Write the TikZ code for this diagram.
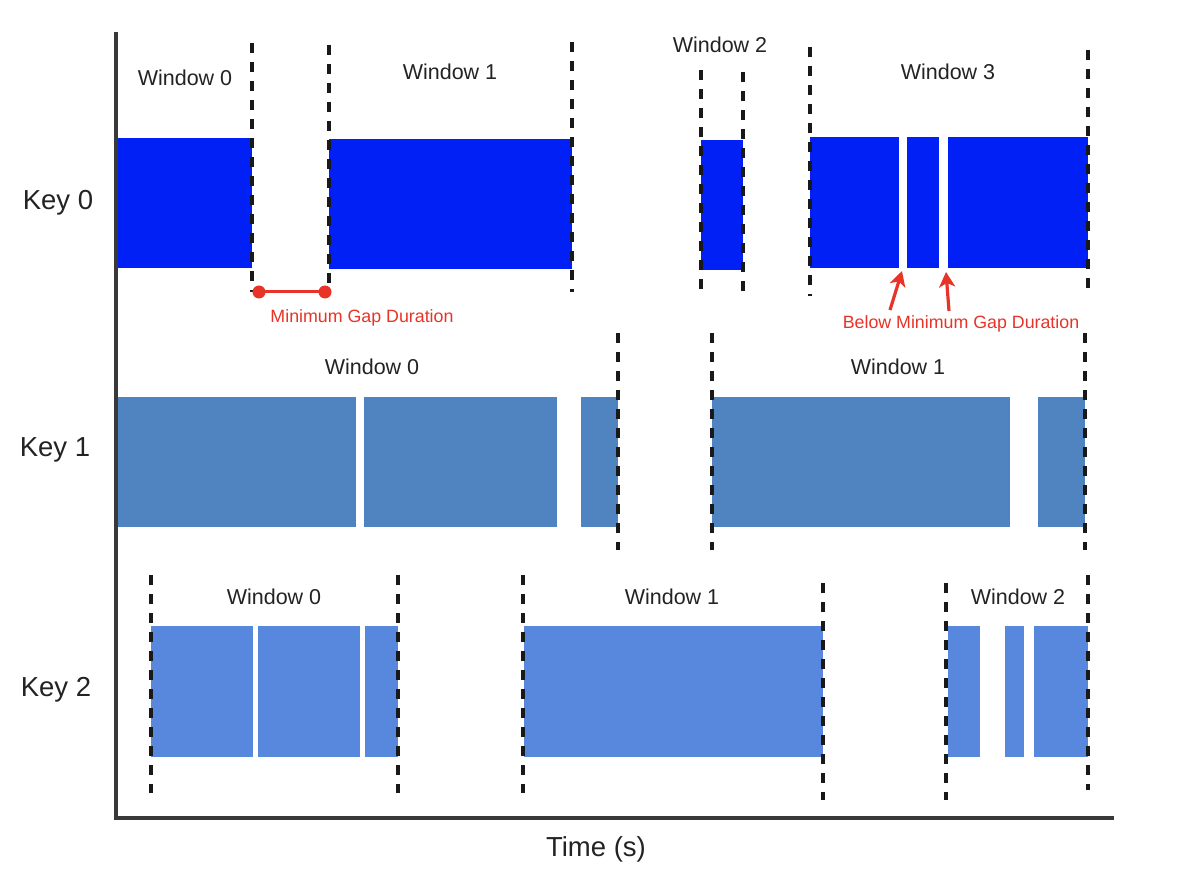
\documentclass[tikz,border=0pt]{standalone}
\usepackage{fontspec}
\setmainfont{Liberation Sans}
\usetikzlibrary{arrows.meta}
\definecolor{kzero}{RGB}{0,32,245}
\definecolor{kone}{RGB}{79,132,192}
\definecolor{ktwo}{RGB}{88,135,222}
\definecolor{gapred}{RGB}{232,52,40}
\definecolor{ink}{RGB}{35,35,35}
\tikzset{
  winline/.style={draw=black!90, line width=3.6pt, dash pattern=on 10pt off 9pt},
  axisline/.style={draw=ink!90, line width=3.4pt},
  wlabel/.style={text=ink, font=\fontsize{21.5}{24}\selectfont, inner sep=0pt},
  klabel/.style={text=ink, font=\fontsize{27.5}{30}\selectfont, inner sep=0pt},
  redlabel/.style={text=gapred, font=\fontsize{17.8}{20}\selectfont, inner sep=0pt},
  redarrow/.style={draw=gapred, line width=3.2pt, -{Stealth[length=15pt,width=16pt,inset=4pt]}},
}
\newcommand\winl[3]{\draw[winline] (#1,#2) -- (#1,#3);}
\begin{document}
\begin{tikzpicture}[x=1pt,y=-1pt]
\useasboundingbox (0,0) rectangle (1200,877);
\fill[white] (0,0) rectangle (1200,877);
% Key 0 bars
\fill[kzero] (116,138) rectangle (252,268);
\fill[kzero] (329,139) rectangle (572,269);
\fill[kzero] (701,140) rectangle (743,270);
\fill[kzero] (810,137) rectangle (899,268);
\fill[kzero] (907,137) rectangle (939,268);
\fill[kzero] (948,137) rectangle (1088,268);
% Key 1 bars
\fill[kone] (116,397) rectangle (356,527);
\fill[kone] (364,397) rectangle (557,527);
\fill[kone] (581,397) rectangle (618,527);
\fill[kone] (712,397) rectangle (1010,527);
\fill[kone] (1038,397) rectangle (1085,527);
% Key 2 bars
\fill[ktwo] (151,626) rectangle (253,757);
\fill[ktwo] (258,626) rectangle (360,757);
\fill[ktwo] (365,626) rectangle (398,757);
\fill[ktwo] (524,626) rectangle (823,757);
\fill[ktwo] (948,626) rectangle (980,757);
\fill[ktwo] (1005,626) rectangle (1024,757);
\fill[ktwo] (1034,626) rectangle (1088,757);
% window boundaries
\winl{252}{43}{292}
\winl{329}{45}{292}
\winl{572}{42}{292}
\winl{701}{70}{296}
\winl{743}{72}{294}
\winl{810}{47}{296}
\winl{1088}{50}{293}
\winl{618}{333}{550}
\winl{712}{333}{550}
\winl{1085}{333}{550}
\winl{151}{575}{793}
\winl{398}{575}{793}
\winl{523}{575}{793}
\winl{823}{583}{800}
\winl{946}{583}{800}
\winl{1088}{575}{790}
% axes
\coordinate (ytop) at (116,32);
\coordinate (origin) at (116,818);
\coordinate (xend) at (1114,818);
\draw[axisline] (ytop) -- (origin) -- (xend);
% labels
\node[wlabel] (k0w0) at (185,78) {Window 0};
\node[wlabel] (k0w1) at (450,72) {Window 1};
\node[wlabel] (k0w2) at (720,45) {Window 2};
\node[wlabel] (k0w3) at (948,72) {Window 3};
\node[wlabel] (k1w0) at (372,367) {Window 0};
\node[wlabel] (k1w1) at (898,367) {Window 1};
\node[wlabel] (k2w0) at (274,597) {Window 0};
\node[wlabel] (k2w1) at (672,597) {Window 1};
\node[wlabel] (k2w2) at (1018,597) {Window 2};
\node[klabel] (key0) at (58,203) {Key 0};
\node[klabel] (key1) at (55,450) {Key 1};
\node[klabel] (key2) at (56,690) {Key 2};
\node[klabel] (time) at (596,849) {Time (s)};
% minimum gap
\coordinate (gapa) at (259,292);
\coordinate (gapb) at (325,292);
\draw[gapred, line width=3pt] (gapa) -- (gapb);
\fill[gapred] (gapa) circle (6.5);
\fill[gapred] (gapb) circle (6.5);
\node[redlabel] (mingap) at (362,318) {Minimum Gap Duration};
% below minimum gap
\node[redlabel] (belowgap) at (961,324) {Below Minimum Gap Duration};
\coordinate (tailA) at (890,310);
\coordinate (headA) at (902,271);
\coordinate (tailB) at (949,311);
\coordinate (headB) at (946,272);
\draw[redarrow] (tailA) -- (headA);
\draw[redarrow] (tailB) -- (headB);
\end{tikzpicture}
\end{document}
